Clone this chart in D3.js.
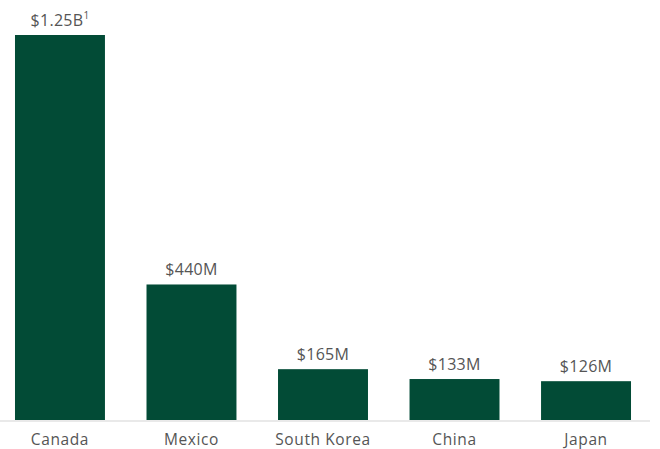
<!DOCTYPE html>
<html>
<head>
<meta charset="utf-8">
<script src="https://cdn.jsdelivr.net/npm/d3@7"></script>
<style>
  body { margin: 0; background: #fff; }
  text { font-family: "Open Sans", Lato, sans-serif; fill: #555; }
</style>
</head>
<body>
<div id="chart"></div>
<script>
var countries = ["Canada", "Mexico", "South Korea", "China", "Japan"];
var values = [1250, 440, 165, 133, 126];
var valueLabels = ["$1.25B", "$440M", "$165M", "$133M", "$126M"];
var footnotes = ["1", "", "", "", ""];

var width = 660, height = 449;
var baseY = 420;

var svg = d3.select("#chart")
    .append("svg")
    .attr("width", width)
    .attr("height", height);

var x = d3.scaleBand()
    .domain(countries)
    .range([0, 646])
    .paddingInner(0.316)
    .paddingOuter(0.114);

var y = d3.scaleLinear()
    .domain([0, 1250])
    .range([baseY, 35]);

var data = countries.map(function (c, i) {
    return { name: c, value: values[i], label: valueLabels[i], note: footnotes[i] };
});

svg.selectAll("rect.bar")
    .data(data)
    .enter().append("rect")
    .attr("class", "bar")
    .attr("x", function (d) { return x(d.name); })
    .attr("y", function (d) { return y(d.value); })
    .attr("width", x.bandwidth())
    .attr("height", function (d) { return baseY - y(d.value); })
    .attr("fill", "#024b36");

// baseline
svg.append("line")
    .attr("x1", 0)
    .attr("x2", 650)
    .attr("y1", baseY + 1)
    .attr("y2", baseY + 1)
    .attr("stroke", "#e2e2e2")
    .attr("stroke-width", 1.5);

// value labels
var labels = svg.selectAll("text.val")
    .data(data)
    .enter().append("text")
    .attr("class", "val")
    .attr("x", function (d) { return x(d.name) + x.bandwidth() / 2; })
    .attr("y", function (d) { return y(d.value) - 9; })
    .attr("text-anchor", "middle")
    .style("font-size", "16px")
    .style("letter-spacing", "0.3px");

labels.append("tspan").text(function (d) { return d.label; });
labels.append("tspan")
    .attr("baseline-shift", "super")
    .style("font-size", "10px")
    .text(function (d) { return d.note; });

// category axis labels
svg.selectAll("text.cat")
    .data(countries)
    .enter().append("text")
    .attr("class", "cat")
    .attr("x", function (d) { return x(d) + x.bandwidth() / 2; })
    .attr("y", 445)
    .attr("text-anchor", "middle")
    .style("font-size", "15.5px")
    .style("letter-spacing", "0.6px")
    .text(function (d) { return d; });
</script>
</body>
</html>
